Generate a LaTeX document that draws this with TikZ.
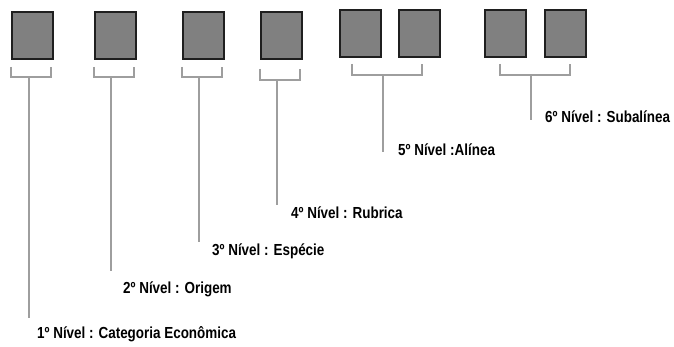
\documentclass[tikz,border=0pt]{standalone}
\usepackage{fontspec}
\usetikzlibrary{calc}
\newfontfamily\lblfont[FakeStretch=0.84]{Liberation Sans Bold}
\begin{document}
\begin{tikzpicture}[x=1pt,y=-1pt,
  cell/.style={draw=black!88,line width=1.7pt,fill=black!50,minimum width=41pt,minimum height=47pt,inner sep=0pt,anchor=north west},
  brk/.style={draw=black!38,line width=1.5pt},
  lbl/.style={font=\lblfont\fontsize{16}{18}\selectfont,anchor=west,inner sep=0pt,text=black}]
\useasboundingbox (0,0) rectangle (674,347);
% boxes
\node[cell] (b1) at (11,11) {};
\node[cell] (b2) at (94,11) {};
\node[cell] (b3) at (182,11) {};
\node[cell] (b4) at (260,11) {};
\node[cell] (b5) at (339,9.5) {};
\node[cell] (b6) at (398,9.5) {};
\node[cell] (b7) at (484,9.5) {};
\node[cell] (b8) at (544,9.5) {};
% bracket coordinates
\coordinate (l1a) at (11,67); \coordinate (l1b) at (51,67);
\coordinate (l2a) at (94,67); \coordinate (l2b) at (134,67);
\coordinate (l3a) at (182,67); \coordinate (l3b) at (222,67);
\coordinate (l4a) at (260,69); \coordinate (l4b) at (300,69);
\coordinate (l5a) at (352,64); \coordinate (l5b) at (422,64);
\coordinate (l6a) at (500,64); \coordinate (l6b) at (570,64);
\foreach \i/\d in {1/10,2/10,3/10,4/11,5/11,6/11}{
  \draw[brk] (l\i a) -- ++(0,\d) coordinate (m\i a) -- ($(l\i b)+(0,\d)$) -- (l\i b);
}
% labels
\node[lbl] (t1) at (37,334) {1º Nível : Categoria Econômica};
\node[lbl] (t2) at (123,289) {2º Nível : Origem};
\node[lbl] (t3) at (212,251) {3º Nível : Espécie};
\node[lbl] (t4) at (291,213) {4º Nível : Rubrica};
\node[lbl] (t5) at (398,150) {5º Nível :Alínea};
\node[lbl] (t6) at (545,117) {6º Nível : Subalínea};
% stems
\coordinate (s1) at (29,77); \coordinate (e1) at (29,318);
\coordinate (s2) at (111,77); \coordinate (e2) at (111,271);
\coordinate (s3) at (199,77); \coordinate (e3) at (199,242);
\coordinate (s4) at (277,80); \coordinate (e4) at (277,205);
\coordinate (s5) at (383,75); \coordinate (e5) at (383,152);
\coordinate (s6) at (531,75); \coordinate (e6) at (531,120);
\foreach \i in {1,...,6}{\draw[brk] (s\i) -- (e\i);}
\end{tikzpicture}
\end{document}
